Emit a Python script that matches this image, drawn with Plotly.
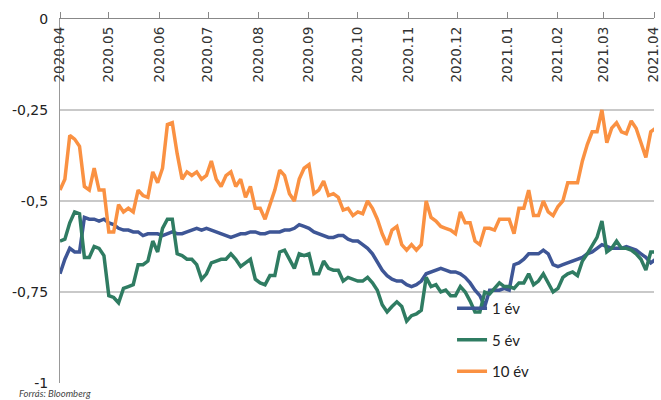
import pandas as pd
import plotly.graph_objects as go

# 3-day sampling from 2020-04-01
dates = pd.date_range("2020-04-01", periods=123, freq="3D")

yield_1y = [
    -0.70, -0.66, -0.63, -0.64, -0.64, -0.545, -0.55, -0.55, -0.555, -0.55,
    -0.56, -0.565, -0.575, -0.58, -0.58, -0.585, -0.585, -0.595, -0.59, -0.59,
    -0.59, -0.595, -0.59, -0.585, -0.59, -0.59, -0.585, -0.58, -0.575, -0.58,
    -0.575, -0.58, -0.585, -0.59, -0.595, -0.60, -0.595, -0.59, -0.59, -0.585,
    -0.585, -0.59, -0.59, -0.585, -0.585, -0.585, -0.58, -0.58, -0.575, -0.565,
    -0.57, -0.575, -0.585, -0.59, -0.595, -0.60, -0.60, -0.595, -0.595, -0.605,
    -0.61, -0.61, -0.62, -0.63, -0.645, -0.67, -0.69, -0.705, -0.715, -0.72,
    -0.72, -0.73, -0.735, -0.73, -0.72, -0.70, -0.695, -0.69, -0.685, -0.69,
    -0.695, -0.695, -0.70, -0.71, -0.725, -0.745, -0.76, -0.79, -0.745, -0.745,
    -0.745, -0.74, -0.745, -0.675, -0.67, -0.66, -0.645, -0.645, -0.645, -0.635,
    -0.645, -0.675, -0.68, -0.675, -0.67, -0.665, -0.66, -0.655, -0.645, -0.64,
    -0.63, -0.62, -0.625, -0.63, -0.63, -0.63, -0.625, -0.63, -0.635, -0.645,
    -0.655, -0.67, -0.66,
]

yield_5y = [
    -0.61, -0.605, -0.56, -0.53, -0.535, -0.655, -0.655, -0.625, -0.63, -0.65,
    -0.76, -0.765, -0.78, -0.74, -0.735, -0.73, -0.675, -0.675, -0.665, -0.61,
    -0.64, -0.575, -0.55, -0.55, -0.645, -0.65, -0.66, -0.66, -0.675, -0.715,
    -0.70, -0.67, -0.665, -0.66, -0.66, -0.645, -0.66, -0.68, -0.67, -0.66,
    -0.715, -0.725, -0.73, -0.705, -0.705, -0.64, -0.635, -0.66, -0.685, -0.645,
    -0.65, -0.645, -0.70, -0.70, -0.665, -0.685, -0.69, -0.69, -0.72, -0.71,
    -0.715, -0.72, -0.72, -0.71, -0.725, -0.745, -0.785, -0.805, -0.79, -0.777,
    -0.79, -0.83, -0.815, -0.81, -0.80, -0.71, -0.735, -0.73, -0.75, -0.745,
    -0.76, -0.76, -0.735, -0.75, -0.775, -0.805, -0.805, -0.75, -0.755, -0.74,
    -0.725, -0.735, -0.735, -0.74, -0.725, -0.725, -0.70, -0.73, -0.72, -0.70,
    -0.725, -0.75, -0.74, -0.71, -0.70, -0.695, -0.705, -0.665, -0.645, -0.62,
    -0.60, -0.555, -0.64, -0.63, -0.61, -0.63, -0.63, -0.635, -0.645, -0.66,
    -0.69, -0.64, -0.64,
]

yield_10y = [
    -0.47, -0.44, -0.32, -0.33, -0.35, -0.46, -0.47, -0.41, -0.47, -0.47,
    -0.585, -0.585, -0.51, -0.53, -0.52, -0.53, -0.47, -0.485, -0.49, -0.42,
    -0.45, -0.41, -0.29, -0.285, -0.37, -0.44, -0.42, -0.43, -0.42, -0.44,
    -0.43, -0.39, -0.44, -0.46, -0.43, -0.42, -0.46, -0.44, -0.49, -0.46,
    -0.52, -0.52, -0.55, -0.51, -0.47, -0.415, -0.43, -0.48, -0.50, -0.44,
    -0.41, -0.40, -0.48, -0.47, -0.445, -0.485, -0.48, -0.49, -0.525, -0.52,
    -0.54, -0.53, -0.535, -0.50, -0.52, -0.55, -0.59, -0.62, -0.58, -0.57,
    -0.62, -0.635, -0.62, -0.635, -0.62, -0.50, -0.545, -0.555, -0.57, -0.575,
    -0.58, -0.59, -0.53, -0.56, -0.56, -0.61, -0.62, -0.575, -0.575, -0.58,
    -0.55, -0.55, -0.55, -0.59, -0.52, -0.52, -0.47, -0.54, -0.54, -0.50,
    -0.53, -0.54, -0.515, -0.50, -0.45, -0.45, -0.45, -0.39, -0.345, -0.31,
    -0.31, -0.25, -0.34, -0.30, -0.285, -0.31, -0.315, -0.28, -0.30, -0.34,
    -0.38, -0.31, -0.30,
]

month_ticks = pd.date_range("2020-04-01", "2021-04-01", freq="MS")
month_labels = [
    "2020.04", "2020.05", "2020.06", "2020.07", "2020.08", "2020.09", "2020.10",
    "2020.11", "2020.12", "2021.01", "2021.02", "2021.03", "2021.04",
]
y_ticks = [0, -0.25, -0.5, -0.75, -1]
y_labels = ["0", "-0,25", "-0,5", "-0,75", "-1"]

series = [
    ("1 év", yield_1y, "rgb(62,86,150)"),
    ("5 év", yield_5y, "rgb(47,124,98)"),
    ("10 év", yield_10y, "rgb(250,145,66)"),
]

fig = go.Figure()
for name, vals, color in series:
    fig.add_trace(
        go.Scatter(
            x=dates,
            y=vals,
            mode="lines",
            name=name,
            legendgroup=name,
            line=dict(color=color, width=3.5),
        )
    )

fig.update_layout(
    width=661,
    height=400,
    margin=dict(l=60, r=0, t=19, b=17),
    paper_bgcolor="white",
    plot_bgcolor="white",
    font=dict(family="DejaVu Sans", size=13, color="#333333"),
    showlegend=True,
    legend=dict(
        x=0.66,
        y=0.25,
        xanchor="left",
        yanchor="top",
        bgcolor="rgba(0,0,0,0)",
        font=dict(family="Lato", size=15, color="#222222"),
        traceorder="grouped",
        tracegroupgap=9,
        itemwidth=30,
    ),
    xaxis=dict(
        type="date",
        side="top",
        range=["2020-04-01", "2021-04-01"],
        tickvals=month_ticks,
        ticktext=month_labels,
        tickangle=-90,
        ticklabelposition="inside",
        ticklabeloverflow="allow",
        ticks="outside",
        ticklen=6,
        tickcolor="#888888",
        showline=True,
        linecolor="#888888",
        linewidth=1,
        showgrid=False,
        zeroline=False,
        tickfont=dict(size=13.5, color="#333333"),
    ),
    yaxis=dict(
        range=[-1, 0],
        tickvals=y_ticks,
        ticktext=y_labels,
        showgrid=True,
        gridcolor="#c9c9c9",
        gridwidth=1.5,
        zeroline=False,
        showline=True,
        linecolor="#999999",
        linewidth=1,
        ticks="",
        ticklabelstandoff=8,
        ticklabeloverflow="allow",
        tickfont=dict(size=14, color="#222222"),
    ),
    annotations=[
        dict(
            text="<i>Forrás: Bloomberg</i>",
            xref="paper",
            yref="paper",
            x=-0.07,
            y=-0.0467,
            xanchor="left",
            yanchor="bottom",
            borderpad=0,
            showarrow=False,
            font=dict(family="Lato", size=9.5, color="#444444"),
        )
    ],
)

fig.write_html(
    "out.html",
    config={"displayModeBar": False},
    post_script="document.body.style.margin='0';",
)
